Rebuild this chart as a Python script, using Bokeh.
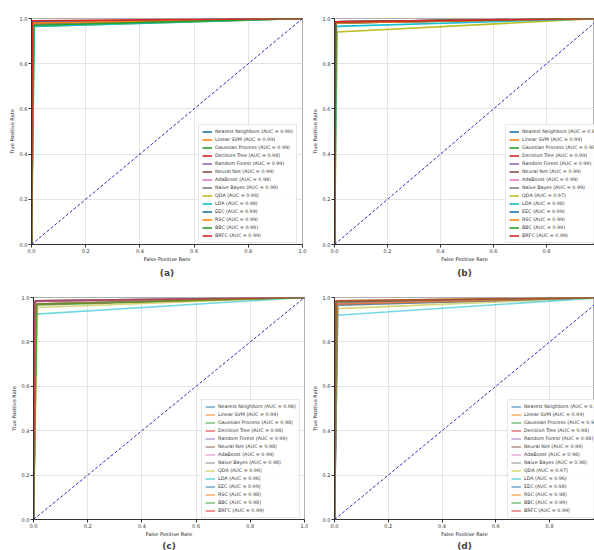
from bokeh.plotting import figure
from bokeh.models import Legend, LegendItem, Title, Range1d, FixedTicker, NumeralTickFormatter
from bokeh.layouts import row, column
from bokeh.embed import file_html
from bokeh.resources import INLINE

classifiers = ["Nearest Neighbors", "Linear SVM", "Gaussian Process", "Decision Tree",
               "Random Forest", "Neural Net", "AdaBoost", "Naive Bayes", "QDA", "LDA",
               "EEC", "RSC", "BBC", "BRFC"]
colors = ["#1f77b4", "#ff7f0e", "#2ca02c", "#d62728", "#9467bd", "#8c564b", "#e377c2",
          "#7f7f7f", "#bcbd22", "#17becf", "#1f77b4", "#ff7f0e", "#2ca02c", "#d62728"]

# (a)
auc_a = [0.99, 0.99, 0.99, 0.98, 0.99, 0.99, 0.98, 0.99, 0.98, 0.98, 0.99, 0.99, 0.98, 0.99]
tpr_a = [0.985, 0.98, 0.975, 0.97, 0.985, 0.98, 0.97, 0.98, 0.965, 0.965, 0.985, 0.98, 0.97, 0.99]
fpr_a = [0.005, 0.004, 0.006, 0.008, 0.004, 0.005, 0.008, 0.006, 0.01, 0.01, 0.004, 0.005, 0.008, 0.003]
# (b)
auc_b = [0.99, 0.99, 0.99, 0.99, 0.99, 0.99, 0.99, 0.99, 0.97, 0.98, 0.99, 0.99, 0.99, 0.99]
tpr_b = [0.98, 0.985, 0.98, 0.985, 0.985, 0.98, 0.985, 0.98, 0.94, 0.965, 0.985, 0.98, 0.985, 0.985]
fpr_b = [0.005, 0.004, 0.005, 0.006, 0.004, 0.005, 0.005, 0.006, 0.01, 0.008, 0.004, 0.005, 0.005, 0.004]
# (c)
auc_c = [0.98, 0.99, 0.98, 0.98, 0.99, 0.98, 0.99, 0.98, 0.96, 0.96, 0.99, 0.98, 0.98, 0.99]
tpr_c = [0.97, 0.985, 0.965, 0.97, 0.985, 0.97, 0.98, 0.97, 0.955, 0.925, 0.985, 0.97, 0.97, 0.985]
fpr_c = [0.01, 0.006, 0.012, 0.01, 0.006, 0.01, 0.008, 0.012, 0.015, 0.01, 0.006, 0.01, 0.012, 0.005]
# (d)
auc_d = [0.98, 0.99, 0.99, 0.98, 0.98, 0.99, 0.98, 0.98, 0.97, 0.96, 0.98, 0.98, 0.99, 0.99]
tpr_d = [0.975, 0.985, 0.98, 0.97, 0.97, 0.98, 0.97, 0.965, 0.95, 0.92, 0.965, 0.97, 0.985, 0.985]
fpr_d = [0.008, 0.006, 0.007, 0.01, 0.01, 0.006, 0.01, 0.012, 0.012, 0.01, 0.012, 0.01, 0.006, 0.005]

ticks = [0.0, 0.2, 0.4, 0.6, 0.8, 1.0]
FONT = "DejaVu Sans"


def make_panel(fpr, tpr, auc, caption, width, height, bl, br, bt, bb, x_end, alpha,
               leg_x, leg_y, cap_standoff):
    p = figure(width=width, height=height, x_range=Range1d(0, x_end), y_range=Range1d(0, 1),
               output_backend="svg", toolbar_location=None,
               min_border_left=bl, min_border_right=br, min_border_top=bt, min_border_bottom=bb)
    p.outline_line_color = "#b0b0b0"
    for ax in (p.xaxis[0], p.yaxis[0]):
        ax.ticker = FixedTicker(ticks=ticks)
        ax.formatter = NumeralTickFormatter(format="0.0")
        ax.major_label_text_font = FONT
        ax.major_label_text_font_size = "5px"
        ax.major_label_text_color = "#333333"
        ax.axis_label_text_font = FONT
        ax.axis_label_text_font_size = "5px"
        ax.axis_label_text_font_style = "normal"
        ax.axis_label_text_color = "#222222"
        ax.major_tick_out = 3
        ax.major_tick_in = 0
        ax.minor_tick_out = 0
        ax.minor_tick_in = 0
        ax.major_label_standoff = 1
        ax.axis_label_standoff = 0
        ax.axis_line_color = "#333333"
        ax.major_tick_line_color = "#333333"
    p.xaxis.axis_label = "False Positive Rate"
    p.yaxis.axis_label = "True Positive Rate"
    p.yaxis.axis_label_standoff = 2
    p.xgrid.ticker = FixedTicker(ticks=ticks)
    p.ygrid.ticker = FixedTicker(ticks=ticks)
    p.grid.grid_line_color = "#e3e3e3"

    items = []
    for name, c, f, t, a in zip(classifiers, colors, fpr, tpr, auc):
        r = p.line([0, f, 1], [0, t, 1], line_color=c, line_width=1.6, line_alpha=alpha)
        items.append(LegendItem(label=f"{name} (AUC = {a:.2f})", renderers=[r]))
    p.line([0, 1], [0, 1], line_color="#2b2bb5", line_width=1, line_dash="3 2")

    leg = Legend(items=items, location=(leg_x, leg_y), label_text_font=FONT,
                 label_text_font_size="4.8px", label_text_color="#333333",
                 glyph_width=10, glyph_height=7, label_height=7, spacing=1, padding=3,
                 label_standoff=3, border_line_color="#d0d0d0", background_fill_alpha=0.9)
    p.add_layout(leg)
    p.add_layout(Title(text=caption, align="center", text_font=FONT, text_font_size="9px",
                       text_font_style="bold", standoff=cap_standoff), "below")
    return p


pa = make_panel(fpr_a, tpr_a, auc_a, "(a)", 308, 285, 31, 6, 18, 41, 1.0, 1.0, 167, 1, 2)
pb = make_panel(fpr_b, tpr_b, auc_b, "(b)", 286, 285, 21, 0, 18, 41, 0.981, 1.0, 171, 1, 2)
pc = make_panel(fpr_c, tpr_c, auc_c, "(c)", 308, 265, 33, 4, 12, 26, 1.0, 0.6, 168, 1, -1)
pd_ = make_panel(fpr_d, tpr_d, auc_d, "(d)", 286, 265, 25, 0, 12, 26, 0.967, 0.6, 173, 1, -1)

layout = column(row(pa, pb), row(pc, pd_))
open("out.html", "w").write(file_html(layout, INLINE))
